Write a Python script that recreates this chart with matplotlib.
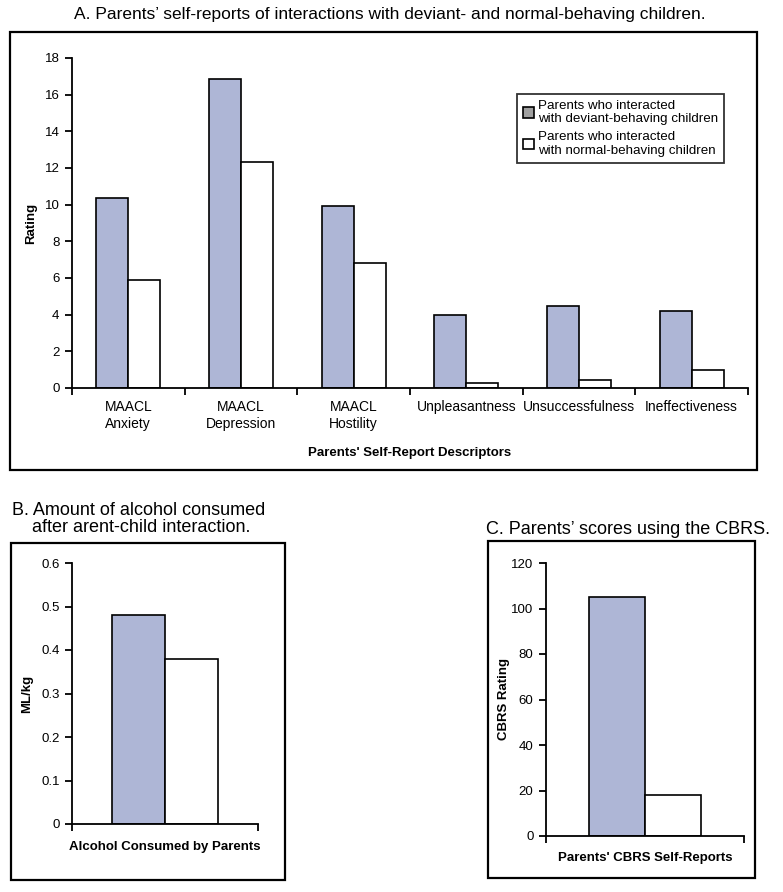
import numpy as np
import matplotlib
matplotlib.use("Agg")
import matplotlib.pyplot as plt
from matplotlib.patches import Rectangle, Patch

plt.rcParams['font.family'] = ['Liberation Sans', 'DejaVu Sans']

# panel A data
descriptors = ["MAACL\nAnxiety", "MAACL\nDepression", "MAACL\nHostility",
               "Unpleasantness", "Unsuccessfulness", "Ineffectiveness"]
deviant_a = [10.35, 16.85, 9.9, 4.0, 4.45, 4.2]
normal_a = [5.9, 12.35, 6.8, 0.25, 0.45, 1.0]

# panel B data
alcohol_deviant = [0.48]
alcohol_normal = [0.38]

# panel C data
cbrs_deviant = [105]
cbrs_normal = [18]

legend_labels = ["Parents who interacted\nwith deviant-behaving children",
                 "Parents who interacted\nwith normal-behaving children"]

BLUE = "#AEB6D6"
W = 0.285

fig = plt.figure(figsize=(7.83, 8.92), dpi=100)


def style_axes(ax):
    ax.spines['top'].set_visible(False)
    ax.spines['right'].set_visible(False)
    for s in ('left', 'bottom'):
        ax.spines[s].set_linewidth(1.3)
    ax.tick_params(axis='y', direction='out', length=5, width=1.3, labelsize=9.5, pad=4)
    ax.tick_params(axis='x', which='major', direction='out', length=5, width=1.3)


def frame(x0, y0, x1, y1):
    # pixel coords from top-left
    fig.patches.append(Rectangle((x0 / 783, 1 - y1 / 892), (x1 - x0) / 783, (y1 - y0) / 892,
                                 transform=fig.transFigure, fill=False, lw=1.6,
                                 edgecolor='black'))


# ---- Panel A ----
axA = fig.add_axes([72 / 783, 1 - 388 / 892, (748 - 72) / 783, (388 - 58) / 892])
x = np.arange(len(descriptors))
axA.bar(x - W / 2, deviant_a, W, color=BLUE, edgecolor='black', lw=1.2)
axA.bar(x + W / 2, normal_a, W, color='white', edgecolor='black', lw=1.2)
axA.set_xlim(-0.5, len(descriptors) - 0.5)
axA.set_ylim(0, 18)
axA.set_yticks(np.arange(0, 19, 2))
axA.set_xticks(np.arange(-0.5, len(descriptors), 1))
axA.set_xticklabels([])
axA.set_xticks(x, minor=True)
axA.set_xticklabels(descriptors, minor=True, fontsize=10)
axA.tick_params(axis='x', which='minor', length=0, pad=9)
style_axes(axA)
axA.set_ylabel("Rating", fontsize=9.5, fontweight='bold')
axA.yaxis.set_label_coords(-0.052, 0.5)
axA.set_xlabel("Parents' Self-Report Descriptors", fontsize=9.5, fontweight='bold', labelpad=12)
fig.text(390 / 783, 1 - 15 / 892, "A. Parents\u2019 self-reports of interactions with deviant- and normal-behaving children.",
         ha='center', va='center', fontsize=12.5)
leg = axA.legend(handles=[Patch(facecolor='#A0A0A0', edgecolor='black', lw=1.2),
                          Patch(facecolor='white', edgecolor='black', lw=1.2)],
                 labels=legend_labels, loc='upper left',
                 bbox_to_anchor=(517 / 783, 1 - 94 / 892), bbox_transform=fig.transFigure,
                 fontsize=9.6, frameon=True, fancybox=False, handlelength=0.8,
                 handleheight=0.8, handletextpad=0.3, borderaxespad=0, labelspacing=0.45,
                 borderpad=0.45)
leg.get_frame().set_edgecolor('black')
leg.get_frame().set_linewidth(1.3)
for t in leg.get_texts():
    t.set_linespacing(1.15)
frame(10, 32, 757, 470)

# ---- Panel B ----
axB = fig.add_axes([72 / 783, 1 - 824 / 892, (258 - 72) / 783, (824 - 563) / 892])
axB.bar([-W / 2], alcohol_deviant, W, color=BLUE, edgecolor='black', lw=1.2)
axB.bar([W / 2], alcohol_normal, W, color='white', edgecolor='black', lw=1.2)
axB.set_xlim(-0.5, 0.5)
axB.set_ylim(0, 0.6)
axB.set_yticks(np.arange(0, 0.61, 0.1))
axB.set_yticklabels(["0", "0.1", "0.2", "0.3", "0.4", "0.5", "0.6"])
axB.set_xticks([-0.5, 0.5])
axB.set_xticklabels([])
style_axes(axB)
axB.set_ylabel("ML/kg", fontsize=9.5, fontweight='bold')
axB.yaxis.set_label_coords(-0.21, 0.5)
axB.set_xlabel("Alcohol Consumed by Parents", fontsize=9.5, fontweight='bold', labelpad=4)
fig.text(12 / 783, 1 - 519 / 892, "B. Amount of alcohol consumed\n    after arent-child interaction.",
         ha='left', va='center', fontsize=13, linespacing=1.0)
frame(11, 543, 285, 880)

# ---- Panel C ----
axC = fig.add_axes([546 / 783, 1 - 836 / 892, (744 - 546) / 783, (836 - 563) / 892])
axC.bar([-W / 2], cbrs_deviant, W, color=BLUE, edgecolor='black', lw=1.2)
axC.bar([W / 2], cbrs_normal, W, color='white', edgecolor='black', lw=1.2)
axC.set_xlim(-0.5, 0.5)
axC.set_ylim(0, 120)
axC.set_yticks(np.arange(0, 121, 20))
axC.set_xticks([-0.5, 0.5])
axC.set_xticklabels([])
style_axes(axC)
axC.set_ylabel("CBRS Rating", fontsize=9.5, fontweight='bold')
axC.yaxis.set_label_coords(-0.18, 0.5)
axC.set_xlabel("Parents' CBRS Self-Reports", fontsize=9.5, fontweight='bold', labelpad=3)
fig.text(628 / 783, 1 - 530 / 892, "C. Parents\u2019 scores using the CBRS.",
         ha='center', va='center', fontsize=13)
frame(488, 541, 755, 878)

fig.savefig("out.png", dpi=100)
